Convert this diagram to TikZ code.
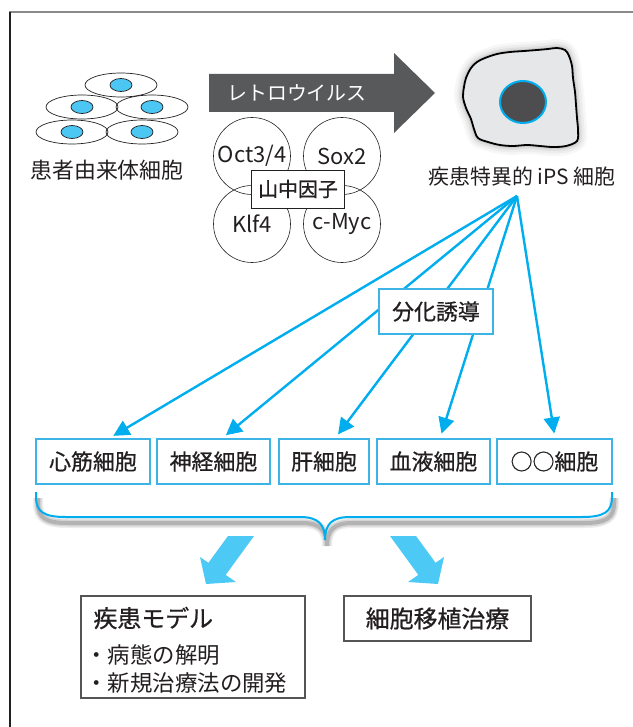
\documentclass[tikz,border=0pt]{standalone}
\usepackage{fontspec}
\setmainfont{Noto Sans CJK JP}
\newfontfamily\jpmid{Noto Sans CJK JP}[FakeBold=0.7]
\usetikzlibrary{arrows.meta,positioning}
\definecolor{ink}{HTML}{231F20}
\definecolor{cyanline}{HTML}{00AEEF}
\definecolor{cyanbox}{HTML}{3DB4E6}
\definecolor{nucleus}{HTML}{4CC6F2}
\definecolor{arrowgray}{HTML}{58595B}
\definecolor{cellgray}{HTML}{E6E7E8}
\definecolor{ipsnuc}{HTML}{4D4D4F}
\definecolor{bigarrow}{HTML}{4CC9F4}
\definecolor{framegray}{HTML}{8A8A8A}
\definecolor{boxgray}{HTML}{555555}

\def\ipsblob{plot[smooth cycle, tension=0.55] coordinates {
  (485,58) (497,54) (510,52) (524,51) (537,50) (548,49) (557,48) (565,50)
  (569,56) (572,66) (573,78) (575,92) (576,105) (577,118) (578,130) (577,141)
  (566,146) (553,147) (540,146) (527,145) (513,146) (500,145) (488,142) (478,138)
  (474,129) (471,119) (466,108) (463,97) (464,87) (466,78) (471,68) (477,62)}}

\def\bracepath{(36,492) -- (36,497) .. controls (36,512) and (44,517) .. (66,517)
  -- (300,517) .. controls (318,517) and (325,524) .. (325,540)
  .. controls (325,524) and (332,517) .. (350,517)
  -- (582,517) .. controls (604,517) and (612,512) .. (612,497) -- (612,492)}

\begin{document}
\begin{tikzpicture}[
  x=1bp, y=-1bp,
  font=\fontsize{21}{25}\selectfont, text=ink,
  cellbox/.style={draw=cyanbox, line width=1.2bp, fill=white, minimum height=45bp, inner sep=0pt, font=\jpmid\fontsize{22}{26}\selectfont},
  factor/.style={circle, draw=ink, line width=0.6bp, minimum size=77bp, inner sep=0pt, font=\fontsize{22}{26}\selectfont},
  fan/.style={-{Triangle[length=16bp,width=16bp]}, line width=2.4bp, draw=cyanline, shorten >=5bp},
  outbox/.style={draw=boxgray, line width=1.3bp, fill=white, inner sep=0pt},
  body/.style={ink, line width=0.7bp},
]
\useasboundingbox (0,0) rectangle (633,727);

\draw[framegray, line width=1.2bp] (9,12) -- (633,12);
\draw[ink, line width=1.2bp] (10,12) -- (10,727);

% patient cells
\foreach \cx/\cy in {121/85, 82/107, 152/107, 72/132, 142/132} {
  \draw[body] (\cx,\cy) ellipse [x radius=36, y radius=12];
  \draw[body, fill=nucleus] (\cx,\cy) ellipse [x radius=11, y radius=6.5];
}
\node[font=\fontsize{22}{26}\selectfont] (patient) at (107,170) {患者由来体細胞};

% retrovirus arrow
\fill[arrowgray] (209,74) -- (394,74) -- (394,53) -- (435,93) -- (394,133) -- (394,112) -- (209,112) -- cycle;
\node[text=white, font=\fontsize{20}{24}\selectfont] (retro) at (297,93) {レトロウイルス};

\node[factor] (oct) at (252,156) {Oct3/4};
\node[factor] (sox) at (342,156) {Sox2};
\node[factor] (klf) at (252,224) {Klf4};
\node[factor] (myc) at (342,224) {c-Myc};
\node[draw=ink, fill=white, line width=0.8bp, minimum width=93bp, minimum height=38bp, inner sep=0pt, font=\jpmid\fontsize{20}{24}\selectfont] (yamanaka) at (298,189) {山中因子};

% iPS cell
\foreach \w/\o in {18/0.03, 13/0.04, 8/0.06, 4/0.08}
  \draw[black, line width=\w bp, opacity=\o, line join=round] \ipsblob;
\draw[black, line width=1.8bp, fill=cellgray] \ipsblob;
\draw[cyanline, line width=2bp, fill=ipsnuc] (523,102) ellipse [x radius=23, y radius=21];
\node (ips) at (522,177) {疾患特異的 iPS 細胞};

\node[cellbox, minimum width=114bp] (heart) at (93,461.5) {心筋細胞};
\node[cellbox, minimum width=113bp] (nerve) at (213.5,461.5) {神経細胞};
\node[cellbox, minimum width=90bp] (liver) at (324,461.5) {肝細胞};
\node[cellbox, minimum width=113bp] (blood) at (433.5,461.5) {血液細胞};
\node[cellbox, minimum width=115bp] (other) at (554.5,461.5) {○○細胞};

\coordinate (fanroot) at (517,196);
\draw[fan] (fanroot) -- ([xshift=16bp]heart.north);
\draw[fan] (fanroot) -- ([xshift=8.5bp]nerve.north);
\draw[fan] (fanroot) -- ([xshift=11bp]liver.north);
\draw[fan] (fanroot) -- ([xshift=6.5bp]blood.north);
\draw[fan] (fanroot) -- ([xshift=0.5bp]other.north);

\node[cellbox, minimum width=114bp] (induce) at (436,311.5) {分化誘導};

% brace under the cell types
\foreach \w/\o in {10/0.07, 7/0.10, 4/0.16}
  \draw[black, line width=\w bp, opacity=\o, shift={(2,6)}] \bracepath;
\draw[cyanline, line width=2bp] \bracepath;

\fill[bigarrow] (228,536) -- (254,536) -- (225.7,574.9) -- (236,582) -- (206,584) -- (200,557) -- (208.4,562.8) -- cycle;
\fill[bigarrow] (390,536) -- (416,536) -- (435.6,562.8) -- (444,557) -- (438,584) -- (408,582) -- (418.3,574.9) -- cycle;

\node[outbox, minimum width=224bp, minimum height=102bp] (model) at (193,647) {};
\node[anchor=west, font=\jpmid\fontsize{24}{28}\selectfont] (modeltitle) at (90,618) {疾患モデル};
\node[anchor=west, font=\fontsize{22.5}{26}\selectfont] (pathology) at (82,655) {・病態の解明};
\node[anchor=west, font=\fontsize{22.5}{26}\selectfont] (newdrug) at (82,683) {・新規治療法の開発};

\node[outbox, minimum width=187bp, minimum height=45bp, font=\jpmid\fontsize{24}{28}\selectfont] (transplant) at (437.5,618.5) {細胞移植治療};

\end{tikzpicture}
\end{document}
